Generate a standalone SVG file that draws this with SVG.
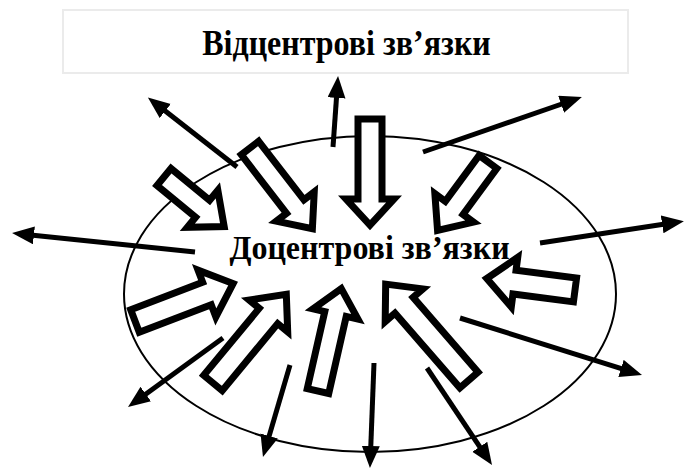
<svg xmlns="http://www.w3.org/2000/svg" width="684" height="470" viewBox="0 0 684 470">
<style>
.blk{fill:#fff;stroke:#000;stroke-width:7;stroke-linejoin:miter;stroke-miterlimit:4}
.ln{stroke:#000;stroke-width:5;fill:none;marker-end:url(#ah)}
.t{font-family:"Liberation Serif","Times New Roman",serif;font-weight:bold;fill:#000;text-anchor:middle}
</style>
<defs>
<marker id="ah" markerUnits="userSpaceOnUse" markerWidth="24" markerHeight="20" refX="13" refY="9" orient="auto">
<path d="M0,0 L22,9 L0,18 z" fill="#000"/>
</marker>
</defs>
<rect width="684" height="470" fill="#fff"/>
<g id="title">
<rect x="63" y="10" width="565" height="63" fill="#fff" stroke="#ebebeb" stroke-width="2"/>
<text class="t" transform="translate(346.5,55) scale(1,1.12)" x="0" y="0" font-size="32">Відцентрові зв’язки</text>
</g>
<g id="ellipse">
<ellipse cx="370" cy="294" rx="246" ry="158" fill="none" stroke="#000" stroke-width="2"/>
</g>
<g id="connectors">
<line class="ln" x1="237" y1="167" x2="155" y2="103"/>
<line class="ln" x1="333" y1="147" x2="337.4" y2="85"/>
<line class="ln" x1="423" y1="152" x2="573.4" y2="100"/>
<line class="ln" x1="195" y1="252" x2="21" y2="234"/>
<line class="ln" x1="540" y1="243" x2="675" y2="222.5"/>
<line class="ln" x1="460" y1="318" x2="633.4" y2="372.3"/>
<line class="ln" x1="223" y1="338" x2="135.3" y2="401.7"/>
<line class="ln" x1="290" y1="365" x2="265.5" y2="448.4"/>
<line class="ln" x1="374" y1="363" x2="370.3" y2="459"/>
<line class="ln" x1="427" y1="368" x2="487" y2="457.6"/>
</g>
<g id="inward-arrows">
<polygon class="blk" transform="translate(164,177) rotate(39.5)" points="0,-11 50,-11 50,-24 78,0 50,24 50,11 0,11"/>
<polygon class="blk" transform="translate(250,148) rotate(52.3)" points="0,-11 74,-11 74,-24 102,0 74,24 74,11 0,11"/>
<polygon class="blk" transform="translate(370,119) rotate(90)" points="0,-12 80,-12 80,-24 106,0 80,24 80,12 0,12"/>
<polygon class="blk" transform="translate(488,162) rotate(126.4)" points="0,-11 57,-11 57,-24 85,0 57,24 57,11 0,11"/>
<polygon class="blk" transform="translate(575,290) rotate(187.4)" points="0,-12 61,-12 61,-25 89,0 61,25 61,12 0,12"/>
<polygon class="blk" transform="translate(135,321) rotate(-20.9)" points="0,-12 77,-12 77,-25 105,0 77,25 77,12 0,12"/>
<polygon class="blk" transform="translate(213,383) rotate(-50.4)" points="0,-12 87,-12 87,-25 115,0 87,25 87,12 0,12"/>
<polygon class="blk" transform="translate(318,391) rotate(-77.2)" points="0,-11 79,-11 79,-23 105,0 79,23 79,11 0,11"/>
<polygon class="blk" transform="translate(469,380) rotate(-131)" points="0,-12 99,-12 99,-25 127,0 99,25 99,12 0,12"/>
</g>
<g id="center">
<text class="t" transform="translate(369.5,259) scale(1,1.08)" x="0" y="0" font-size="32">Доцентрові зв’язки</text>
</g>
</svg>
